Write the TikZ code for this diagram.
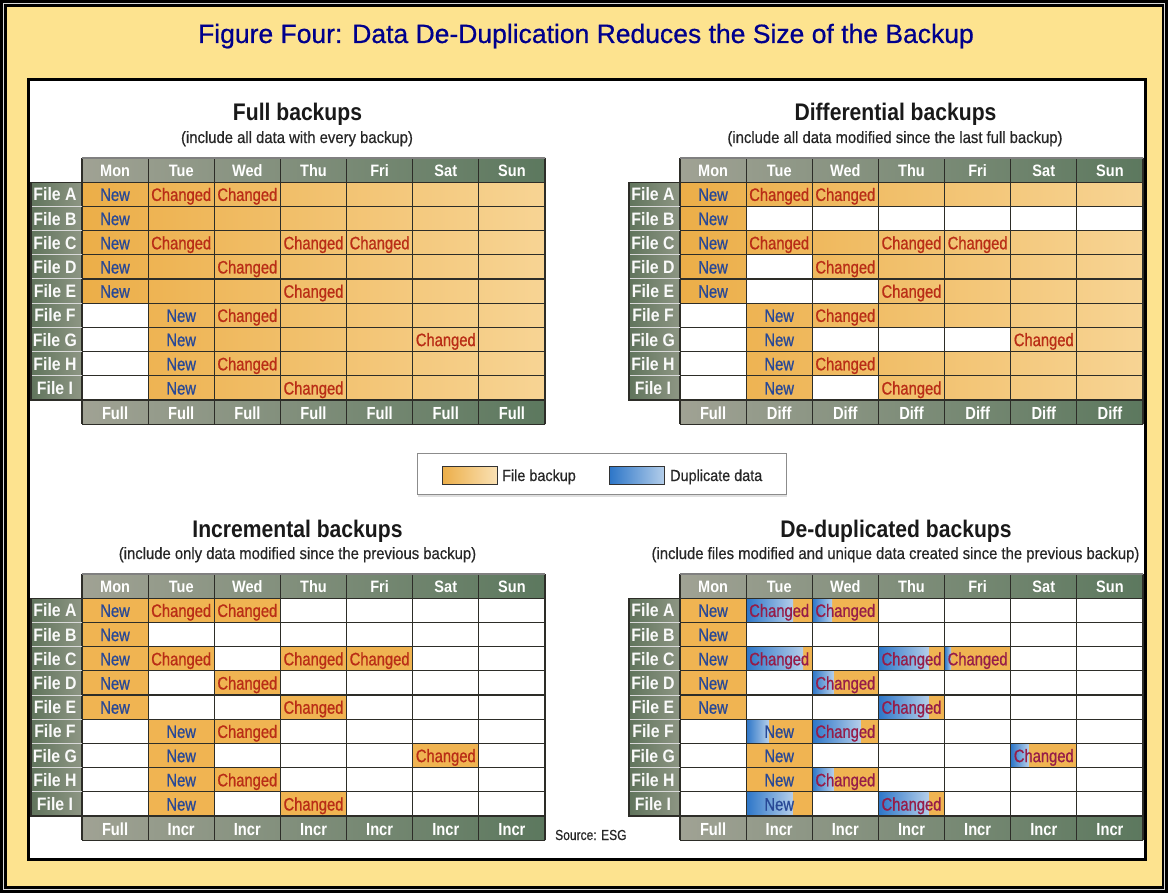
\documentclass[tikz,border=0pt]{standalone}
\usepackage{fontspec}
\setmainfont{Liberation Sans}
\newfontfamily\cndr[FakeStretch=0.82,FakeBold=0.8]{Liberation Sans}
\newfontfamily\cndb[FakeStretch=0.88]{Liberation Sans}
\newfontfamily\cndf[FakeStretch=0.84]{Liberation Sans}
\newfontfamily\cndt[FakeStretch=0.88]{Liberation Sans}
\newfontfamily\cnds[FakeStretch=0.9,FakeBold=0.5]{Liberation Sans}
\newfontfamily\cndsrc[FakeStretch=0.83,FakeBold=0.5]{Liberation Sans}
\newfontfamily\ttlfont[FakeBold=0.6]{Liberation Sans}
\usetikzlibrary{shadows}
\definecolor{bgyel}{RGB}{253,227,143}
\definecolor{ttlblue}{RGB}{0,0,140}
\definecolor{hdrL}{RGB}{160,162,148}
\definecolor{hdrR}{RGB}{92,120,94}
\definecolor{lblL}{RGB}{96,116,92}
\definecolor{lblR}{RGB}{142,150,132}
\definecolor{orA}{RGB}{236,174,72}
\definecolor{orB}{RGB}{247,212,148}
\definecolor{orD}{RGB}{240,180,82}
\definecolor{bluL}{RGB}{45,118,200}
\definecolor{bluR}{RGB}{180,206,234}
\definecolor{newblue}{RGB}{40,72,150}
\definecolor{chgred}{RGB}{185,45,22}
\definecolor{chgpur}{RGB}{150,28,72}
\definecolor{gridc}{RGB}{45,45,40}
\newcommand\wordN{New}
\newcommand\wordC{Changed}
\def\tcw{66.143}
\def\trh{24.2}
\def\entries{1/1/N,1/2/C,1/3/C,2/1/N,3/1/N,3/2/C,3/4/C,3/5/C,4/1/N,4/3/C,5/1/N,5/4/C,6/2/N,6/3/C,7/2/N,7/6/C,8/2/N,8/3/C,9/2/N,9/4/C}
\newcommand\OC[3]{%
  \fill[#3] ({\TX+(#2-1)*\tcw},{\TY+#1*\trh}) rectangle ({\TX+#2*\tcw},{\TY+(#1+1)*\trh});}
\newcommand\GC[2]{%
  \pgfmathtruncatemacro\gl{(#2-1)*100/7}\pgfmathtruncatemacro\gr{#2*100/7}%
  \shade[left color=orB!\gl!orA, right color=orB!\gr!orA] ({\TX+(#2-1)*\tcw},{\TY+#1*\trh}) rectangle ({\TX+#2*\tcw},{\TY+(#1+1)*\trh});}
\newcommand\BC[3]{%
  \shade[left color=bluL, right color=bluR] ({\TX+(#2-1)*\tcw},{\TY+#1*\trh}) rectangle ({\TX+(#2-1+#3)*\tcw},{\TY+(#1+1)*\trh});}
\newcommand\TableBase{%
  \fill[white] (\TX,{\TY+\trh}) rectangle ({\TX+7*\tcw},{\TY+10*\trh});
  \shade[left color=hdrL,right color=hdrR] (\TX,\TY) rectangle ({\TX+7*\tcw},{\TY+\trh});
  \shade[left color=hdrL,right color=hdrR] (\TX,{\TY+10*\trh}) rectangle ({\TX+7*\tcw},{\TY+11*\trh});
  \shade[left color=lblL,right color=lblR] ({\TX-51},{\TY+\trh}) rectangle (\TX,{\TY+10*\trh});
}
\newcommand\TableGrid[2]{%
  \foreach \r in {1,...,10} \draw[gridln] (\TX,{\TY+\r*\trh}) -- ({\TX+7*\tcw},{\TY+\r*\trh});
  \foreach \c in {0,...,7} \draw[gridln] ({\TX+\c*\tcw},\TY) -- ({\TX+\c*\tcw},{\TY+11*\trh});
  \draw[gridln,draw=gray] (\TX,\TY) -- ({\TX+7*\tcw},\TY);
  \draw[gridln] (\TX,{\TY+11*\trh}) -- ({\TX+7*\tcw},{\TY+11*\trh});
  \foreach \r in {2,...,9} \draw[white!70!gray, line width=1] ({\TX-51},{\TY+\r*\trh}) -- (\TX,{\TY+\r*\trh});
  \draw[gridln] (\TX,{\TY+\trh}) -- ({\TX-51},{\TY+\trh}) -- ({\TX-51},{\TY+10*\trh}) -- (\TX,{\TY+10*\trh});
  \foreach \d [count=\i] in {Mon,Tue,Wed,Thu,Fri,Sat,Sun} \node[hdr] (#1-h\i) at ({\TX+(\i-0.5)*\tcw},{\TY+18.7}) {\d};
  \foreach \l [count=\i] in {A,B,C,D,E,F,G,H,I} \node[lbl] (#1-l\i) at ({\TX-27},{\TY+\i*\trh+18.7}) {File \l};
  \foreach \f [count=\i] in {#2} \node[ftr] (#1-f\i) at ({\TX+(\i-0.5)*\tcw},{\TY+10*\trh+19}) {\f};
  \foreach \r/\c/\t in \entries \node[txt\t] (#1-\r-\c) at ({\TX+(\c-0.5)*\tcw},{\TY+\r*\trh+18.7}) {\csname word\t\endcsname};
}
\begin{document}
\begin{tikzpicture}[x=1pt,y=-1pt,
  gridln/.style={draw=gridc, line width=1.1pt},
  hdr/.style={anchor=base, inner sep=0pt, text=white, font=\cndb\bfseries\fontsize{16.5}{18}\selectfont},
  ftr/.style={anchor=base, inner sep=0pt, text=white, font=\cndf\bfseries\fontsize{17.5}{19}\selectfont},
  lbl/.style={anchor=base, inner sep=0pt, text=white!96!gray, font=\cndb\bfseries\fontsize{18}{20}\selectfont},
  txt/.style={anchor=base, inner sep=0pt, font=\cndr\fontsize{18}{20}\selectfont},
  txtN/.style={txt, text=newblue},
  txtC/.style={txt, text=chgred},
  sttl/.style={anchor=base, inner sep=0pt, text=black!90, font=\cndt\bfseries\fontsize{24}{26}\selectfont},
  ssub/.style={anchor=base, inner sep=0pt, text=black!85, font=\cnds\fontsize{16.5}{18}\selectfont},
  lgt/.style={anchor=base west, inner sep=0pt, text=black!85, font=\cnds\fontsize{16}{18}\selectfont},
  swatch/.style={draw=black!80, line width=0.8pt, minimum width=55pt, minimum height=18pt, inner sep=0pt}
]
\useasboundingbox (0,0) rectangle (1168,893);
% outer frame
\fill[black!15] (0,0) rectangle (1168,893);
\fill[bgyel] (5.5,5.5) rectangle (1163,887.5);
\draw[black, line width=2.6pt] (1.3,1.3) rectangle (1166.7,891.7);
\draw[black, line width=2.2pt] (5.5,5.5) rectangle (1163,887.5);
% title
\node[anchor=base, inner sep=0pt, text=ttlblue, font=\ttlfont\fontsize{26.5}{30}\selectfont] (title) at (586,43) {Figure Four: Data De-Duplication Reduces the Size of the Backup};
% white panel
\draw[black, line width=3pt, fill=white] (28,80) rectangle (1145,859);

% ---------- Full backups ----------
\def\TX{82}\def\TY{158}
\TableBase
\foreach \r in {1,...,9} \foreach \c in {2,...,7} {\GC{\r}{\c}}
\foreach \r in {1,...,5} {\GC{\r}{1}}
\TableGrid{full}{Full,Full,Full,Full,Full,Full,Full}
\node[sttl] (t-full) at (297.5,121) {Full backups};
\node[ssub] (s-full) at (297,143) {(include all data with every backup)};

% ---------- Differential backups ----------
\def\TX{680}\def\TY{158}
\TableBase
\foreach \r/\c in {1/1,1/2,1/3,1/4,1/5,1/6,1/7,2/1,3/1,3/2,3/3,3/4,3/5,3/6,3/7,4/1,4/3,4/4,4/5,4/6,4/7,5/1,5/4,5/5,5/6,5/7,6/2,6/3,6/4,6/5,6/6,6/7,7/2,7/6,7/7,8/2,8/3,8/4,8/5,8/6,8/7,9/2,9/4,9/5,9/6,9/7} {\GC{\r}{\c}}
\TableGrid{diff}{Full,Diff,Diff,Diff,Diff,Diff,Diff}
\node[sttl] (t-diff) at (895.5,121) {Differential backups};
\node[ssub] (s-diff) at (895,143) {(include all data modified since the last full backup)};

% ---------- Incremental backups ----------
\def\TX{82}\def\TY{574}
\TableBase
\foreach \r/\c/\t in \entries {\OC{\r}{\c}{orD}}
\TableGrid{incr}{Full,Incr,Incr,Incr,Incr,Incr,Incr}
\node[sttl] (t-incr) at (297.5,537) {Incremental backups};
\node[ssub] (s-incr) at (297.5,559) {(include only data modified since the previous backup)};

% ---------- De-duplicated backups ----------
\def\TX{680}\def\TY{574}
\TableBase
\foreach \r/\c/\t in \entries {\OC{\r}{\c}{orD}}
\foreach \r/\c/\f in {1/2/0.71,1/3/0.30,3/2/0.86,3/4/0.76,3/5/0.10,4/3/0.32,5/4/0.76,6/2/0.34,6/3/0.73,7/6/0.27,8/3/0.32,9/2/0.70,9/4/0.76} {\BC{\r}{\c}{\f}}
\tikzset{txtC/.style={txt, text=chgpur}}
\TableGrid{dedup}{Full,Incr,Incr,Incr,Incr,Incr,Incr}
\node[sttl] (t-dedup) at (896,537) {De-duplicated backups};
\node[ssub] (s-dedup) at (895.5,559) {(include files modified and unique data created since the previous backup)};

% ---------- legend ----------
\node[draw=black!45, fill=white, minimum width=369pt, minimum height=41pt, inner sep=0pt,
  drop shadow={opacity=0.25, shadow xshift=1pt, shadow yshift=-3pt}] (legend) at (601.5,473.5) {};
\node[swatch, left color=orA, right color=orB!70!white] (sw1) at (469.5,475) {};
\node[lgt] (lt1) at (502,481) {File backup};
\node[swatch, left color=bluL, right color=bluR] (sw2) at (637,475) {};
\node[lgt] (lt2) at (670,481) {Duplicate data};

% source
\node[anchor=base west, inner sep=0pt, text=black!85, font=\cndsrc\fontsize{14.5}{16}\selectfont] (src) at (555,840) {Source: ESG};
\end{tikzpicture}
\end{document}
